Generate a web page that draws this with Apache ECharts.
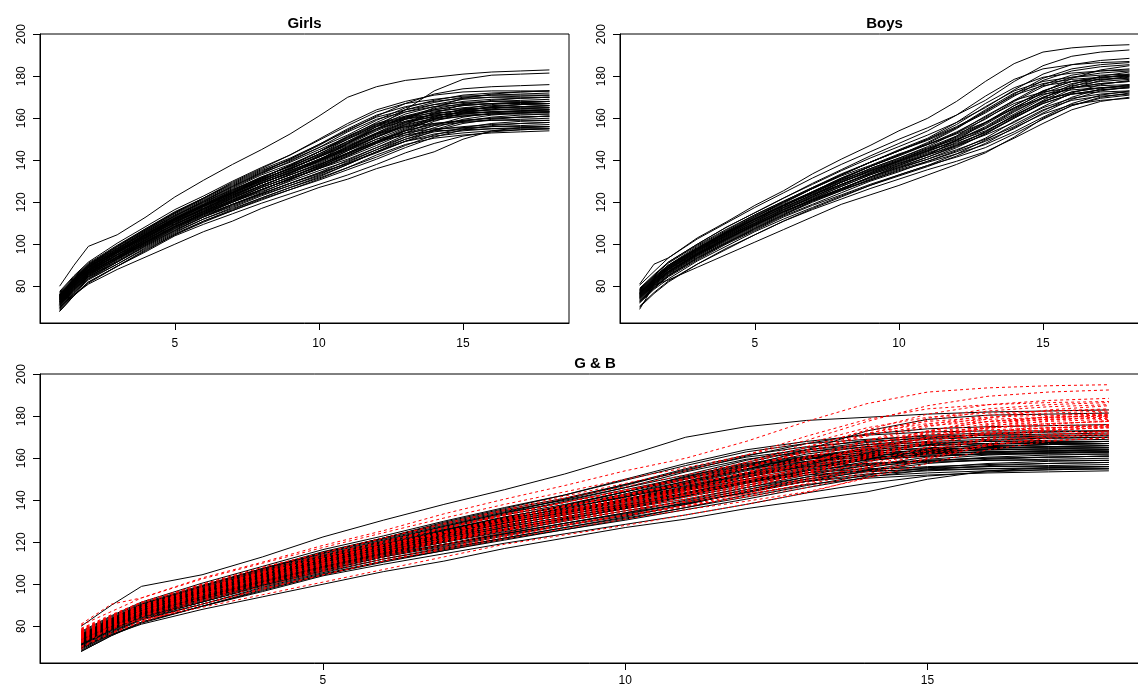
<!DOCTYPE html>
<html>
<head>
<meta charset="utf-8">
<script src="https://cdn.jsdelivr.net/npm/echarts@6/dist/echarts.min.js"></script>
<style>
  html, body { margin: 0; padding: 0; background: #fff; }
  #chart { width: 1138px; height: 687px; }
</style>
</head>
<body>
<div id="chart"></div>
<script>
// ages (years) at which heights were measured
const ages = [1, 1.5, 2, 3, 4, 5, 6, 7, 8, 9, 10, 11, 12, 13, 14, 15, 16, 17, 18];

// girls' heights (cm), one row per girl
const girls = [
  [80, 90, 99, 104.5, 113, 122.5, 130.5, 138, 145, 152.5, 161, 170, 175, 178, 179.5, 181, 182, 182.5, 183],
  [76, 82.5, 88, 96, 103.5, 110.5, 117, 123, 129, 134.5, 140, 148, 156, 164, 173, 178.5, 180.5, 181, 181.5],
  [76, 83.5, 90.5, 99, 107, 115, 122, 129, 135.5, 141, 147.5, 154, 161, 167, 171.5, 174, 175, 175.5, 176],
  [75.5, 83, 90, 99, 107, 115, 122, 129.5, 136, 142.5, 150, 157.5, 164, 168, 171, 172.5, 173, 173, 173],
  [77, 84.5, 91, 99.5, 107.5, 115.5, 122, 128.5, 135, 140, 146, 152, 159, 165, 168.5, 171, 172, 172.5, 173],
  [74.5, 82, 89, 96.5, 104.5, 112, 118.5, 124.5, 130.5, 136, 141.5, 147, 153, 159.5, 165, 169.5, 171.5, 172.5, 173],
  [76, 83.5, 90, 98.5, 106.5, 114.5, 121, 127.5, 134, 139, 145, 151, 158, 164, 167.5, 170, 171, 171.5, 172],
  [77.5, 85, 91.5, 100.5, 108.5, 116.5, 123, 130, 136.5, 142.5, 149.5, 156.5, 163, 167, 169, 170.5, 171, 171, 171],
  [74, 81.5, 88, 96.5, 104.5, 112.5, 119, 125.5, 132, 137, 143, 149, 156, 162, 165.5, 168, 169, 169.5, 170],
  [75.5, 83, 89.5, 97, 105, 112.5, 118.5, 124, 130, 135, 140, 145.5, 151, 157, 162.5, 166.5, 168.5, 169.5, 170],
  [75, 82.5, 89, 97.5, 105.5, 113.5, 120, 126.5, 133, 138, 144, 150, 157, 163, 166.5, 169, 170, 170.5, 171],
  [74.5, 82, 89, 97.5, 106, 113.5, 120.5, 127.5, 134, 140.5, 147.5, 155, 161.5, 165.5, 168, 169.5, 170, 170, 170],
  [73, 80.5, 87, 95.5, 103.5, 111.5, 118, 124.5, 131, 136, 142, 148, 155, 161, 164.5, 167, 168, 168.5, 169],
  [73.5, 81, 87.5, 95, 103, 110.5, 116.5, 122, 128, 133, 138, 143.5, 149, 155, 160.5, 164.5, 166.5, 167.5, 168],
  [76, 83.5, 90, 98, 106, 113.5, 120, 126, 132, 137, 142.5, 148.5, 155, 160.5, 164, 166, 167, 167.5, 168],
  [76.5, 84, 90.5, 99, 107.5, 115, 121.5, 128, 134.5, 140.5, 147, 154.5, 160.5, 164, 166.5, 167.5, 168, 168, 168],
  [74, 81.5, 88, 96, 104.5, 112, 118.5, 124.5, 131, 136, 141.5, 148, 154.5, 160, 164, 166, 167, 167.5, 168],
  [72.5, 80, 86.5, 94, 102, 109.5, 115.5, 121, 127, 132, 137, 142.5, 148, 154, 159.5, 163.5, 165.5, 166.5, 167],
  [75, 82.5, 89, 97, 105, 112.5, 119, 125, 131, 136, 141.5, 147.5, 154, 159.5, 163, 165, 166, 166.5, 167],
  [75.5, 83, 89.5, 98, 106.5, 114, 120.5, 127, 133.5, 139.5, 146, 153.5, 159.5, 163, 165.5, 166.5, 167, 167, 167],
  [72, 79.5, 86, 94, 102.5, 110, 116.5, 122.5, 129, 134, 139.5, 146, 152.5, 158, 162, 164, 165, 165.5, 166],
  [74.5, 82, 88.5, 96, 103.5, 111, 117, 122.5, 128, 133, 138, 143, 148.5, 154.5, 159.5, 163.5, 165.5, 166.5, 167],
  [74, 81.5, 88, 96, 104, 111.5, 118, 124, 130, 135, 140.5, 146.5, 153, 158.5, 162, 164, 165, 165.5, 166],
  [73.5, 81, 87.5, 96, 104.5, 112, 118.5, 125, 131.5, 137.5, 144, 151.5, 157.5, 161, 163.5, 164.5, 165, 165, 165],
  [71.5, 79, 85.5, 93, 101, 108.5, 114.5, 120, 126, 131, 136, 141.5, 147, 153, 158.5, 162.5, 164.5, 165.5, 166],
  [75, 82.5, 89, 97, 104.5, 112, 118.5, 124.5, 130, 135, 140.5, 146, 152.5, 158, 161, 163, 164, 164.5, 165],
  [73, 80.5, 87, 95, 103, 110.5, 117, 123, 129, 134, 139.5, 145.5, 152, 157.5, 161, 163, 164, 164.5, 165],
  [74.5, 82, 88.5, 97, 105, 112.5, 119, 125.5, 131.5, 137.5, 144, 151, 157, 160.5, 162.5, 163.5, 164, 164, 164],
  [73.5, 81, 87.5, 95, 102, 109.5, 115.5, 121, 126, 131, 136, 140.5, 146, 152, 156.5, 160.5, 162.5, 163.5, 164],
  [72, 79.5, 86, 94, 102, 109.5, 116, 122, 128, 133, 138.5, 144.5, 151, 156.5, 160, 162, 163, 163.5, 164],
  [75.5, 83, 89.5, 98, 105.5, 113, 119.5, 126, 131.5, 137.5, 144, 150.5, 156.5, 160, 161.5, 162.5, 163, 163, 163],
  [74, 81.5, 88, 96, 103.5, 111, 117.5, 123.5, 129, 134, 139.5, 145, 151.5, 157, 160, 162, 163, 163.5, 164],
  [72.5, 80, 86.5, 94, 101, 108.5, 114.5, 120, 125, 130, 135, 139.5, 145, 151, 155.5, 159.5, 161.5, 162.5, 163],
  [71, 78.5, 85, 93, 101, 108.5, 115, 121, 127, 132, 137.5, 143.5, 150, 155.5, 159, 161, 162, 162.5, 163],
  [73.5, 81, 87.5, 96, 104, 111.5, 118, 124.5, 130.5, 136.5, 143, 150, 156, 159.5, 161.5, 162.5, 163, 163, 163],
  [75, 82.5, 89, 96.5, 104.5, 111.5, 118, 123.5, 129, 134, 139, 145, 151, 156, 159.5, 161, 162, 162.5, 163],
  [71.5, 79, 85.5, 93, 100, 107.5, 113.5, 119, 124, 129, 134, 138.5, 144, 150, 154.5, 158.5, 160.5, 161.5, 162],
  [73, 80.5, 87, 94.5, 102.5, 109.5, 116, 121.5, 127, 132, 137, 143, 149, 154, 157.5, 159, 160, 160.5, 161],
  [72.5, 80, 86.5, 95, 103, 110.5, 117, 123.5, 129.5, 135.5, 142, 149, 155, 158.5, 160.5, 161.5, 162, 162, 162],
  [71, 78.5, 85, 93, 100.5, 108, 114.5, 120.5, 126, 131, 136.5, 142, 148.5, 154, 157, 159, 160, 160.5, 161],
  [72.5, 80, 86.5, 93.5, 101, 108, 114, 119, 124, 129, 133.5, 138.5, 143.5, 149, 154, 157.5, 159.5, 160.5, 161],
  [72, 79.5, 86, 93.5, 101.5, 108.5, 115, 120.5, 126, 131, 136, 142, 148, 153, 156.5, 158, 159, 159.5, 160],
  [71.5, 79, 85.5, 94, 101.5, 109, 115.5, 122, 127.5, 133.5, 140, 146.5, 152.5, 156, 157.5, 158.5, 159, 159, 159],
  [70, 77.5, 84, 91.5, 99.5, 106.5, 113, 118.5, 124, 129, 134, 140, 146, 151, 154.5, 156, 157, 157.5, 158],
  [70.5, 78, 84.5, 91.5, 99, 106, 112, 117, 122, 127, 131.5, 136.5, 141.5, 147, 152, 155.5, 157.5, 158.5, 159],
  [69, 76.5, 83, 90.5, 98.5, 105.5, 112, 117.5, 123, 128, 133, 139, 145, 150, 153.5, 155, 156, 156.5, 157],
  [70.5, 78, 84.5, 92.5, 100.5, 107.5, 114, 120, 125.5, 131.5, 137.5, 144.5, 150, 153, 155, 155.5, 156, 156, 156],
  [71, 78.5, 84.5, 92, 100, 107, 113, 118, 123.5, 128, 132.5, 138, 144, 149, 151.5, 153, 154, 154.5, 155],
  [68.5, 76, 82, 89.5, 96.5, 104, 109.5, 114.5, 119.5, 124, 128.5, 133, 138, 143.5, 148, 151.5, 153.5, 154.5, 155],
  [70, 76, 81, 88, 94, 100, 106, 111, 117, 122, 127, 131, 136, 140, 144, 150, 154, 155.5, 156],
  [68, 75.5, 81.5, 89.5, 97, 104.5, 110.5, 116, 121.5, 126, 131, 136.5, 142.5, 147.5, 150.5, 152, 153, 153.5, 154],
  [69.5, 77, 83.5, 91.5, 99.5, 106.5, 113, 119, 124.5, 130.5, 136.5, 143.5, 149, 152, 154, 154.5, 155, 155, 155],
  [68, 75.5, 82, 89.5, 97.5, 104.5, 111, 116.5, 122, 127, 132, 138, 144, 149, 152.5, 154, 155, 155.5, 156],
  [69.5, 77, 83.5, 90.5, 98, 105, 111, 116, 121, 126, 130.5, 135.5, 140.5, 146, 151, 154.5, 156.5, 157.5, 158]
];

// boys' heights (cm), one row per boy
const boys = [
  [80.5, 87, 93.5, 103, 110.5, 118.5, 125.5, 133.5, 140.5, 147, 154, 160, 168, 177.5, 186, 191.5, 193.5, 194.5, 195],
  [81, 90.5, 93.5, 102.5, 110, 117.5, 124.5, 131.5, 138, 144, 150, 155.5, 161.5, 168.5, 177.5, 185, 189.5, 191.5, 192.5],
  [79, 85.5, 91.5, 100, 108, 115, 122, 128.5, 135, 141, 146.5, 152, 158, 165, 173.5, 181, 185.5, 187.5, 188.5],
  [78.5, 85, 91.5, 100, 108, 115, 122, 129, 135.5, 142, 148, 154, 161.5, 170.5, 178.5, 183.5, 185.5, 186.5, 187],
  [77, 83.5, 89.5, 98, 106, 113, 120, 126.5, 133, 139, 144.5, 150, 156, 163, 171.5, 179, 183.5, 185.5, 186.5],
  [77.5, 84, 89.5, 98.5, 106, 113.5, 120, 126.5, 132.5, 137.5, 143, 147.5, 152.5, 158, 164.5, 172.5, 179, 183, 185],
  [78, 84.5, 90, 99, 106.5, 114, 120.5, 127, 133.5, 139, 144.5, 149.5, 155.5, 162.5, 170.5, 178, 182.5, 184.5, 185.5],
  [76.5, 83, 89, 98, 105.5, 113, 119.5, 126.5, 133, 139, 145, 150.5, 158, 167, 174.5, 179.5, 181.5, 182.5, 183],
  [76, 82.5, 88, 97, 104.5, 112, 118.5, 125, 131.5, 137, 142.5, 147.5, 153.5, 160.5, 168.5, 176, 180.5, 182.5, 183.5],
  [76.5, 83, 88.5, 97, 105, 112, 118.5, 124.5, 130.5, 135.5, 140.5, 145.5, 150, 155, 162, 169.5, 176, 180, 182],
  [77, 83.5, 89, 97.5, 105.5, 112.5, 119, 125, 131.5, 137, 142, 147.5, 153, 159.5, 168, 175, 179.5, 181.5, 182.5],
  [78.5, 85, 91, 99.5, 107, 114, 120.5, 127, 133, 139, 144.5, 150, 157, 165.5, 173, 177.5, 179.5, 180.5, 181],
  [75, 81.5, 87, 95.5, 103.5, 110.5, 117, 123, 129.5, 135, 140, 145.5, 151, 157.5, 166, 173, 177.5, 179.5, 180.5],
  [75.5, 82, 87.5, 96, 104, 111, 117.5, 123.5, 129.5, 134.5, 139.5, 144.5, 149, 154, 161, 168.5, 175, 179, 181],
  [77, 83.5, 89, 97.5, 105, 112, 118.5, 124.5, 130.5, 136, 141, 146, 151.5, 158, 166, 173, 177.5, 179.5, 180.5],
  [75.5, 82, 88, 96.5, 104.5, 111.5, 118, 124.5, 131, 137, 142.5, 148.5, 155.5, 164, 172, 176.5, 178.5, 179.5, 180],
  [76, 82.5, 88, 96.5, 104, 111, 117.5, 123.5, 129.5, 135, 140, 145, 150.5, 157, 165, 172, 176.5, 178.5, 179.5],
  [74.5, 81, 86.5, 95, 103, 110, 116.5, 122.5, 128.5, 133.5, 138.5, 143.5, 148, 153, 160, 167.5, 174, 178, 180],
  [75, 81.5, 87, 95.5, 103, 110, 116.5, 122.5, 128.5, 134, 139, 144, 149.5, 156, 164, 171, 175.5, 177.5, 178.5],
  [76.5, 83, 89, 97.5, 105, 112, 118.5, 125, 131, 137, 142.5, 148, 155, 163.5, 171, 175.5, 177.5, 178.5, 179],
  [76.5, 83, 88.5, 97, 104, 111, 117.5, 123.5, 128.5, 133.5, 138.5, 142.5, 147, 152, 158, 165.5, 172, 176, 178],
  [78, 84.5, 90, 98, 105.5, 112, 118.5, 124, 129.5, 135, 139.5, 144.5, 149.5, 155.5, 163.5, 170, 174.5, 176.5, 177.5],
  [74, 80.5, 86, 94.5, 102, 109, 115.5, 121.5, 127.5, 133, 138, 143, 148.5, 155, 163, 170, 174.5, 176.5, 177.5],
  [77.5, 84, 90, 98, 105.5, 112, 118.5, 124.5, 130, 136, 141, 146.5, 153, 161, 168.5, 172.5, 174.5, 175.5, 176],
  [74.5, 81, 86.5, 95, 102, 109, 115.5, 121.5, 126.5, 131.5, 136.5, 140.5, 145, 150, 156, 163.5, 170, 174, 176],
  [76, 82.5, 88, 96, 103.5, 110, 116.5, 122, 127.5, 133, 137.5, 142.5, 147.5, 153.5, 161.5, 168, 172.5, 174.5, 175.5],
  [74, 80.5, 86, 94.5, 101.5, 108.5, 115, 121, 126.5, 132, 137, 141.5, 147, 153.5, 161, 168, 172.5, 174.5, 175.5],
  [74.5, 81, 87, 95.5, 102.5, 109.5, 116, 122.5, 128, 134, 139.5, 144.5, 151.5, 160, 167, 171.5, 173.5, 174.5, 175],
  [73.5, 80, 85.5, 94, 101, 108, 114.5, 120.5, 125.5, 130.5, 135.5, 139.5, 144, 149, 155, 162.5, 169, 173, 175],
  [73, 79.5, 85, 93.5, 100.5, 107.5, 114, 120, 125.5, 131, 136, 140.5, 146, 152.5, 160, 167, 171.5, 173.5, 174.5],
  [75, 81.5, 87, 95, 102.5, 109, 115.5, 121, 126.5, 132, 136.5, 141.5, 146.5, 152.5, 160.5, 167, 171.5, 173.5, 174.5],
  [75.5, 82, 87, 95.5, 102.5, 109.5, 115.5, 121, 126, 130.5, 135, 139, 143, 147.5, 153.5, 160.5, 167, 171, 173],
  [73, 79.5, 85, 93, 100.5, 107, 113.5, 119, 124.5, 130, 134.5, 139.5, 144.5, 150.5, 158.5, 165, 169.5, 171.5, 172.5],
  [72.5, 79, 85, 93.5, 100.5, 107.5, 114, 120.5, 126, 132, 137.5, 142.5, 149.5, 158, 165, 169.5, 171.5, 172.5, 173],
  [72.5, 79, 84.5, 92.5, 100, 106.5, 113, 118.5, 123.5, 128.5, 133, 137.5, 141.5, 146, 152.5, 159.5, 166, 170, 172],
  [72, 78.5, 83.5, 92, 99, 106, 112, 117.5, 123, 128, 132.5, 137, 142, 148, 155.5, 162, 166.5, 168.5, 169.5],
  [69, 80.5, 83, 89, 95, 101, 107, 113, 119, 123.5, 128, 133, 138, 143.5, 151, 160, 166, 169.5, 171],
  [70.5, 77, 82.5, 90.5, 98, 104.5, 111, 116.5, 121.5, 126.5, 131, 135.5, 139.5, 144, 150.5, 157.5, 164, 168, 170],
  [70, 76.5, 82, 90.5, 97.5, 104.5, 111, 117, 122.5, 128, 133, 137.5, 143, 149.5, 157, 164, 168.5, 170.5, 171.5]
];

const xTicks = [5, 10, 15];
const yTicks = [80, 100, 120, 140, 160, 180, 200];
const panelTitles = ['Girls', 'Boys', 'G & B'];

const font = "'Liberation Sans', Arial, Helvetica, sans-serif";

const chart = echarts.init(document.getElementById('chart'), null, { renderer: 'canvas' });

function mkX(i, labelGap) {
  return {
    type: 'value', gridIndex: i, min: 0.32, max: 18.68,
    splitLine: { show: false },
    axisLine: { show: true, lineStyle: { color: '#000', width: 1 } },
    axisTick: { show: true, customValues: xTicks, length: 7, lineStyle: { color: '#000' } },
    axisLabel: { customValues: xTicks, margin: labelGap, color: '#000', fontSize: 12, fontFamily: font }
  };
}

function mkY(i) {
  return {
    type: 'value', gridIndex: i, min: 62.5, max: 200.1,
    splitLine: { show: false },
    axisLine: { show: true, lineStyle: { color: '#000', width: 1 } },
    axisTick: { show: true, customValues: yTicks, length: 7, lineStyle: { color: '#000' } },
    axisLabel: { customValues: yTicks, rotate: 90, margin: 12, color: '#000', fontSize: 12, fontFamily: font }
  };
}

function toLine(row, axis, color, dash, z) {
  return {
    type: 'line',
    xAxisIndex: axis, yAxisIndex: axis,
    data: ages.map((a, i) => [a, row[i]]),
    showSymbol: false, symbol: 'none',
    silent: true, z: z,
    lineStyle: { color: color, width: 1, type: dash }
  };
}

let series = [];
girls.forEach(g => series.push(toLine(g, 0, '#000', 'solid', 2)));
boys.forEach(b => series.push(toLine(b, 1, '#000', 'solid', 2)));
girls.forEach(g => series.push(toLine(g, 2, '#000', 'solid', 2)));
boys.forEach(b => series.push(toLine(b, 2, '#ff0000', [3, 3], 3)));

const titleStyle = { fontSize: 15, fontWeight: 'bold', fontFamily: font, color: '#000', lineHeight: 15 };

// the panels sit where the reference puts them; labels may reach the page edge
const gridBase = { show: true, borderColor: '#000', borderWidth: 1, containLabel: false, outerBoundsMode: 'none' };

const option = {
  animation: false,
  backgroundColor: '#fff',
  title: [
    { text: panelTitles[0], left: 304.5, top: 16, textAlign: 'center', padding: 0, textStyle: titleStyle },
    { text: panelTitles[1], left: 884.5, top: 16, textAlign: 'center', padding: 0, textStyle: titleStyle },
    { text: panelTitles[2], left: 595, top: 356, textAlign: 'center', padding: 0, textStyle: titleStyle }
  ],
  grid: [
    Object.assign({ left: 40, top: 34, width: 529, height: 289 }, gridBase),
    Object.assign({ left: 620, top: 34, width: 529, height: 289 }, gridBase),
    Object.assign({ left: 40, top: 374, width: 1110, height: 289 }, gridBase)
  ],
  xAxis: [mkX(0, 15), mkX(1, 15), mkX(2, 12)],
  yAxis: [mkY(0), mkY(1), mkY(2)],
  series: series
};

chart.setOption(option);
</script>
</body>
</html>
